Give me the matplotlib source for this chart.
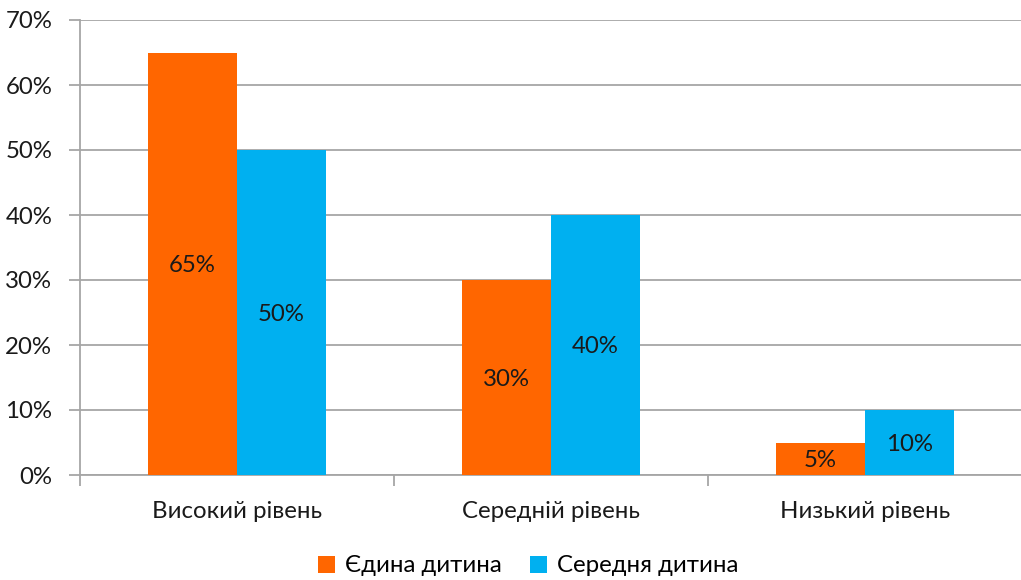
import numpy as np
import matplotlib.pyplot as plt

plt.rcParams['font.family'] = ['Lato', 'DejaVu Sans']

categories = ['Високий рівень', 'Середній рівень', 'Низький рівень']
series_names = ['Єдина дитина', 'Середня дитина']
only_child = [65, 30, 5]
middle_child = [50, 40, 10]
y_ticks = [0, 10, 20, 30, 40, 50, 60, 70]

colors = ['#FF6600', '#00B0F0']
fs = 17.3

fig = plt.figure(figsize=(10.21, 5.80), dpi=100)
ax = fig.add_axes([80 / 1021, 1 - 475 / 580, 942 / 1021, 455 / 580])

x = np.arange(len(categories))
w = 0.284
for i, (vals, name) in enumerate(zip([only_child, middle_child], series_names)):
    pos = x + (i - 0.5) * w
    bars = ax.bar(pos, vals, width=w, color=colors[i], label=name, zorder=3)
    for b, v in zip(bars, vals):
        ax.text(b.get_x() + w / 2, v / 2 - 0.3, f'{v}%', ha='center', va='center',
                fontsize=fs, color='#1a1a1a', zorder=4)

ax.set_xlim(-0.5, len(categories) - 0.5)
ax.set_ylim(0, 70)
ax.set_yticks(y_ticks)
ax.set_yticklabels([f'{t}%' for t in y_ticks], fontsize=fs, color='#1a1a1a')
ax.yaxis.grid(True, color='#a6a6a6', linewidth=1.3, zorder=0)

ax.set_xticks(x)
ax.set_xticklabels(categories, fontsize=fs, color='#1a1a1a')
ax.tick_params(axis='x', length=0, pad=19)
ax.set_xticks(np.arange(len(categories) + 1) - 0.5, minor=True)
ax.tick_params(axis='x', which='minor', length=8, color='#a6a6a6', width=1.3)
ax.tick_params(axis='y', length=8, color='#a6a6a6', width=1.3, pad=12)

for s in ['top', 'right']:
    ax.spines[s].set_visible(False)
for s in ['left', 'bottom']:
    ax.spines[s].set_color('#a6a6a6')
    ax.spines[s].set_linewidth(1.3)

fig.legend(loc='center', bbox_to_anchor=(528 / 1021, 1 - 566 / 580), ncol=2,
           frameon=False, fontsize=fs, handlelength=0.7, handleheight=0.7,
           handletextpad=0.4, columnspacing=1.2)

fig.savefig('out.png', dpi=100)
